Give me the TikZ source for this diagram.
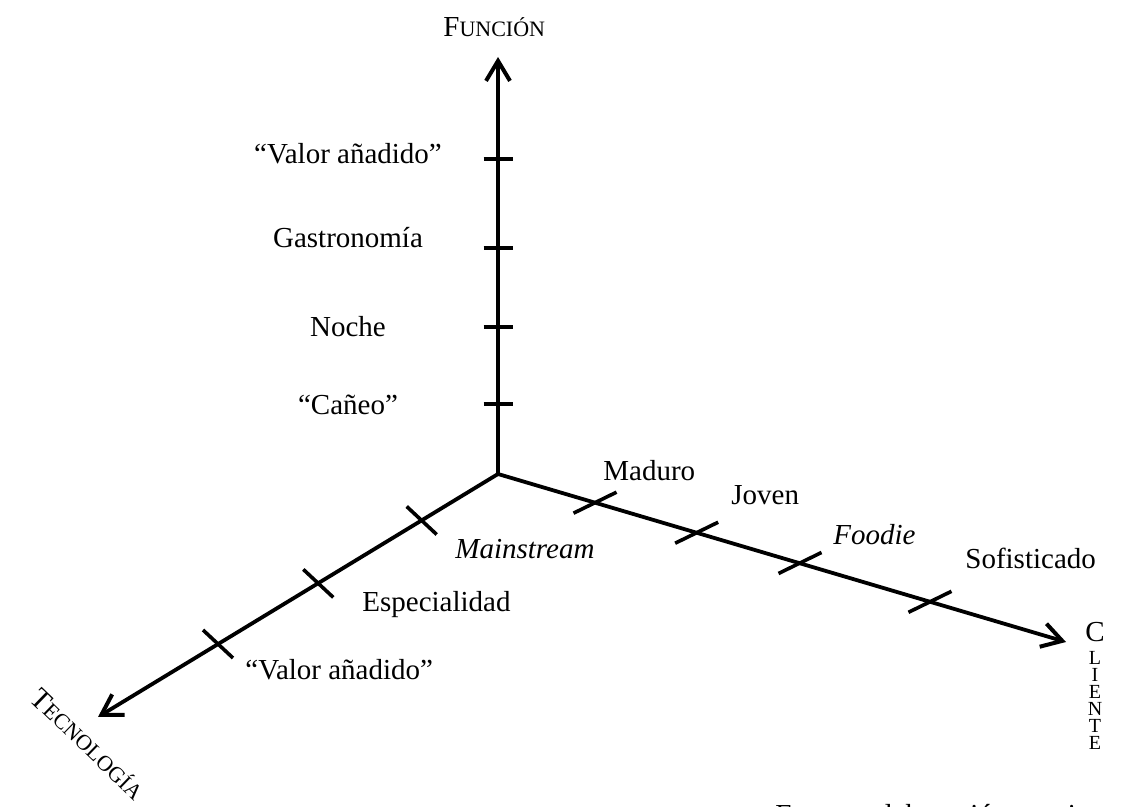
\documentclass[tikz,border=0pt]{standalone}
\usepackage{fontspec}
\setmainfont{Liberation Serif}
\usetikzlibrary{arrows.meta}
\newcommand{\smc}[1]{{\fontsize{11}{11}\selectfont #1}}
\begin{document}
\begin{tikzpicture}[x=0.5pt,y=-0.5pt,
  axis/.style={line width=1.9pt,-{Straight Barb[length=10pt,width=12pt,line width=2pt]}},
  tickmark/.style={line width=1.8pt},
  lab/.style={inner sep=0pt,font=\fontsize{14.5}{17}\selectfont},
  smallcap/.style={inner sep=0pt,font=\fontsize{10}{7.75}\selectfont}]
\useasboundingbox[fill=white] (0,0) rectangle (1126,807);
% axes
\coordinate (O) at (498,474);
\coordinate (fe) at (498,57);
\coordinate (te) at (98,717);
\coordinate (ce) at (1066,642);
\draw[axis] (O) -- (fe);
\draw[axis] (O) -- (te);
\draw[axis] (O) -- (ce);
% ticks on Funcion
\foreach \n/\y in {f1/159,f2/248,f3/327,f4/404}{
  \coordinate (\n) at (498,\y);
  \draw[tickmark] (\n) ++(-14.5,0) -- ++(29,0);
}
% ticks on Tecnologia
\foreach \n/\x/\y in {t1/421.7/520.5,t2/318.3/583.4,t3/218/644}{
  \coordinate (\n) at (\x,\y);
  \draw[tickmark] (\n) ++(-15,-14) -- ++(30,28);
}
% ticks on Cliente
\foreach \n/\x/\y in {c1/595/502.7,c2/696.7/532.7,c3/800/563,c4/930/601.8}{
  \coordinate (\n) at (\x,\y);
  \draw[tickmark] (\n) ++(-21.5,10.5) -- ++(43,-21);
}
% labels Funcion
\node[lab,anchor=base] (lf1) at (348,164) {``Valor añadido''};
\node[lab,anchor=base] (lf2) at (348,248) {Gastronomía};
\node[lab,anchor=base] (lf3) at (348,337) {Noche};
\node[lab,anchor=base] (lf4) at (348,415) {``Cañeo''};
% labels Tecnologia
\node[lab,anchor=base west] (lt1) at (455,559) {\itshape Mainstream};
\node[lab,anchor=base west] (lt2) at (362,612) {Especialidad};
\node[lab,anchor=base west] (lt3) at (245,680) {``Valor añadido''};
% labels Cliente
\node[lab,anchor=base west] (lc1) at (603,481) {Maduro};
\node[lab,anchor=base west] (lc2) at (731,505) {Joven};
\node[lab,anchor=base west] (lc3) at (833,545) {\itshape Foodie};
\node[lab,anchor=base west] (lc4) at (965,569) {Sofisticado};
% axis titles
\node[lab,anchor=base west] (tf) at (443,37) {F\smc{UNCIÓN}};
\node[lab,anchor=center,rotate=-44] (tt) at (88,744) {T\smc{ECNOLOGÍA}};
\node[lab,anchor=base] (tc1) at (1095,642) {C};
\node[smallcap,anchor=north,align=center] (tc2) at (1095,651) {L\\[0.8pt]I\\[0.8pt]E\\[0.8pt]N\\[0.8pt]T\\[0.8pt]E};
% source
\node[lab,anchor=base west] (src) at (775,825) {Fuente: elaboración propia};
\end{tikzpicture}
\end{document}
